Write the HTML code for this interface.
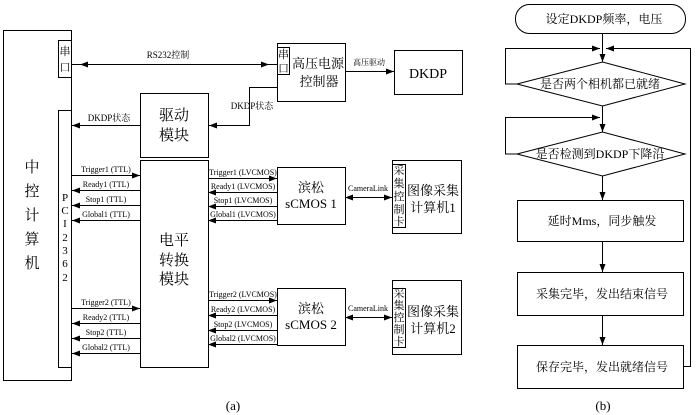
<!DOCTYPE html>
<html><head><meta charset="utf-8"><style>
html,body{margin:0;padding:0;background:#fff;}
svg{display:block;font-family:"Liberation Serif","Noto Serif CJK SC",serif;}
</style></head><body>
<svg width="700" height="415" viewBox="0 0 700 415" xmlns="http://www.w3.org/2000/svg">
<defs>
<marker id="a" markerWidth="8" markerHeight="6" refX="8" refY="3" orient="auto-start-reverse" markerUnits="userSpaceOnUse"><path d="M0,0 L8,3 L0,6 z" fill="#000"/></marker>
</defs>
<g fill="none" stroke="#000" stroke-width="1">
<rect x="3.5" y="30.5" width="68" height="350"/>
<rect x="58.5" y="40.5" width="13" height="37" fill="#fff"/>
<rect x="58.5" y="110.5" width="13" height="257" fill="#fff"/>
<rect x="277.5" y="43.5" width="68" height="58"/>
<rect x="277.5" y="47.5" width="12" height="27"/>
<rect x="394.5" y="50.5" width="68" height="44"/>
<rect x="140.5" y="93.5" width="68" height="64"/>
<rect x="140.5" y="160.5" width="68" height="207"/>
<rect x="277.5" y="167.5" width="68" height="57"/>
<rect x="277.5" y="288.5" width="68" height="57"/>
<rect x="392.5" y="160.5" width="69" height="73"/>
<rect x="392.5" y="164.5" width="13" height="63"/>
<rect x="392.5" y="280.5" width="69" height="74"/>
<rect x="392.5" y="288.5" width="13" height="59"/>
<line x1="80" y1="64.5" x2="269" y2="64.5" marker-start="url(#a)" marker-end="url(#a)"/>
<line x1="72" y1="64.5" x2="277" y2="64.5"/>
<line x1="345" y1="71.5" x2="394" y2="71.5" marker-end="url(#a)"/>
<polyline points="277,87.5 249.5,87.5 249.5,125.5 209,125.5" marker-end="url(#a)"/>
<line x1="140" y1="125.5" x2="72" y2="125.5" marker-end="url(#a)"/>
<line x1="72" y1="175.5" x2="140" y2="175.5" marker-end="url(#a)"/>
<line x1="140" y1="190.5" x2="72" y2="190.5" marker-end="url(#a)"/>
<line x1="140" y1="205.5" x2="72" y2="205.5" marker-end="url(#a)"/>
<line x1="140" y1="220.5" x2="72" y2="220.5" marker-end="url(#a)"/>
<line x1="72" y1="308.5" x2="140" y2="308.5" marker-end="url(#a)"/>
<line x1="140" y1="323.5" x2="72" y2="323.5" marker-end="url(#a)"/>
<line x1="140" y1="338.5" x2="72" y2="338.5" marker-end="url(#a)"/>
<line x1="140" y1="353.5" x2="72" y2="353.5" marker-end="url(#a)"/>
<line x1="208" y1="178.5" x2="277" y2="178.5" marker-end="url(#a)"/>
<line x1="277" y1="192.5" x2="208" y2="192.5" marker-end="url(#a)"/>
<line x1="277" y1="206.5" x2="208" y2="206.5" marker-end="url(#a)"/>
<line x1="277" y1="220.5" x2="208" y2="220.5" marker-end="url(#a)"/>
<line x1="208" y1="300.5" x2="277" y2="300.5" marker-end="url(#a)"/>
<line x1="277" y1="315.5" x2="208" y2="315.5" marker-end="url(#a)"/>
<line x1="277" y1="330.5" x2="208" y2="330.5" marker-end="url(#a)"/>
<line x1="277" y1="344.5" x2="208" y2="344.5" marker-end="url(#a)"/>
<line x1="345" y1="197.5" x2="392" y2="197.5" marker-start="url(#a)" marker-end="url(#a)"/>
<line x1="345" y1="317.5" x2="392" y2="317.5" marker-start="url(#a)" marker-end="url(#a)"/>
<rect x="515.5" y="4.5" width="170" height="29" rx="14" ry="14"/>
<line x1="602.5" y1="33" x2="602.5" y2="62" marker-end="url(#a)"/>
<polygon points="517,84 602.5,62 685,84 602.5,106"/>
<polyline points="517,84 505.5,84 505.5,48.5 600,48.5" marker-end="url(#a)"/>
<polyline points="683,366.5 690.5,366.5 690.5,48.5 606,48.5" marker-end="url(#a)"/>
<line x1="602.5" y1="106" x2="602.5" y2="132" marker-end="url(#a)"/>
<polygon points="517,154 602.5,132 685,154 602.5,176"/>
<polyline points="517,154 505.5,154 505.5,117.5 600,117.5" marker-end="url(#a)"/>
<line x1="602.5" y1="176" x2="602.5" y2="200" marker-end="url(#a)"/>
<rect x="517.5" y="200.5" width="166" height="41"/>
<line x1="602.5" y1="241" x2="602.5" y2="272" marker-end="url(#a)"/>
<rect x="517.5" y="272.5" width="166" height="43"/>
<line x1="602.5" y1="315" x2="602.5" y2="345" marker-end="url(#a)"/>
<rect x="517.5" y="345.5" width="166" height="43"/>
</g>
<g fill="#000" font-size="15" text-anchor="middle">
<text x="32" y="172">中</text><text x="32" y="196">控</text><text x="32" y="220">计</text><text x="32" y="244">算</text><text x="32" y="268">机</text>
<text x="174" y="120">驱动</text><text x="174" y="140">模块</text>
<text x="174" y="245">电平</text><text x="174" y="265">转换</text><text x="174" y="284">模块</text>
<text x="318" y="68" font-size="13">高压电源</text><text x="319" y="86" font-size="13">控制器</text>
<text x="428" y="78" font-size="14">DKDP</text>
<text x="311" y="192" font-size="13">滨松</text><text x="311" y="208" font-size="13">sCMOS 1</text>
<text x="311" y="313" font-size="13">滨松</text><text x="311" y="329" font-size="13">sCMOS 2</text>
<text x="433" y="195" font-size="13">图像采集</text><text x="433" y="212" font-size="13">计算机1</text>
<text x="433" y="316" font-size="13">图像采集</text><text x="433" y="333" font-size="13">计算机2</text>
</g>
<g fill="#000" font-size="11" text-anchor="middle">
<text x="65" y="55">串</text><text x="65" y="71">口</text>
<text x="283.5" y="58">串</text><text x="283.5" y="72">口</text>
<text x="65" y="201">P</text><text x="65" y="214">C</text><text x="65" y="227">I</text><text x="65" y="241">2</text><text x="65" y="254">3</text><text x="65" y="267">6</text><text x="65" y="281">2</text>
<text x="399" y="174">采</text><text x="399" y="187">集</text><text x="399" y="200">控</text><text x="399" y="213">制</text><text x="399" y="225">卡</text>
<text x="399" y="297">采</text><text x="399" y="309">集</text><text x="399" y="321">控</text><text x="399" y="333">制</text><text x="399" y="345">卡</text>
</g>
<g fill="#000" font-size="8" text-anchor="middle">
<text x="168" y="58" font-size="9">RS232控制</text>
<text x="369" y="65">高压驱动</text>
<text x="252" y="109" font-size="9">DKDP状态</text>
<text x="109" y="121" font-size="9">DKDP状态</text>
<text x="106" y="172">Trigger1 (TTL)</text><text x="106" y="187">Ready1 (TTL)</text><text x="106" y="202">Stop1 (TTL)</text><text x="106" y="217">Global1 (TTL)</text>
<text x="106" y="305">Trigger2 (TTL)</text><text x="106" y="320">Ready2 (TTL)</text><text x="106" y="335">Stop2 (TTL)</text><text x="106" y="350">Global2 (TTL)</text>
<text x="243" y="175">Trigger1 (LVCMOS)</text><text x="243" y="189">Ready1 (LVCMOS)</text><text x="243" y="203">Stop1 (LVCMOS)</text><text x="243" y="217">Global1 (LVCMOS)</text>
<text x="243" y="297">Trigger2 (LVCMOS)</text><text x="243" y="312">Ready2 (LVCMOS)</text><text x="243" y="327">Stop2 (LVCMOS)</text><text x="243" y="341">Global2 (LVCMOS)</text>
<text x="368" y="191">CameraLink</text><text x="368" y="311">CameraLink</text>
</g>
<g fill="#000" font-size="12" text-anchor="middle">
<text x="604" y="23">设定DKDP频率，电压</text>
<text x="600" y="88">是否两个相机都已就绪</text>
<text x="600" y="158">是否检测到DKDP下降沿</text>
<text x="602" y="225">延时Mms，同步触发</text>
<text x="602" y="298">采集完毕，发出结束信号</text>
<text x="602" y="371">保存完毕，发出就绪信号</text>
<text x="233" y="410" font-size="13">(a)</text>
<text x="603" y="410" font-size="13">(b)</text>
</g>
</svg>
</body></html>
